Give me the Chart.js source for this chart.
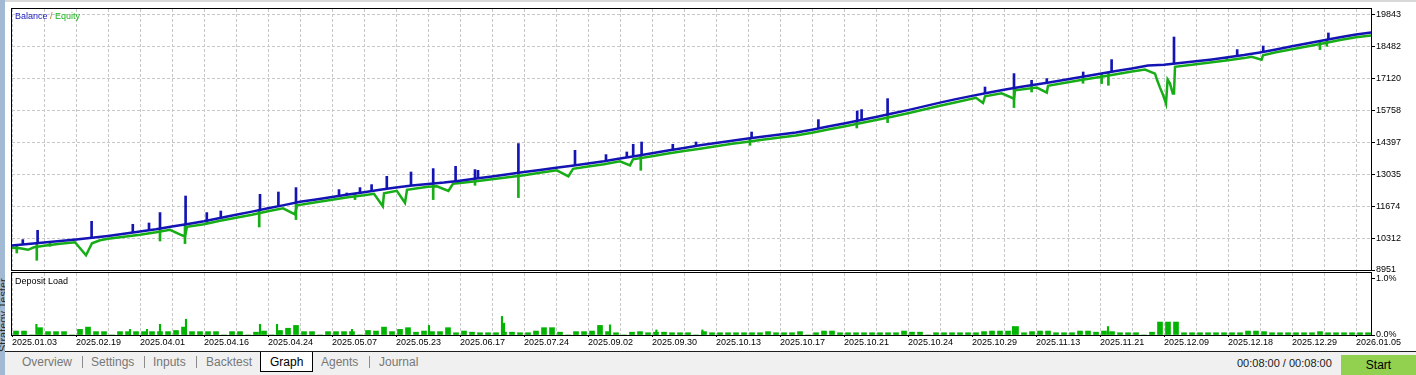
<!DOCTYPE html>
<html>
<head>
<meta charset="utf-8">
<script src="https://cdn.jsdelivr.net/npm/chart.js@4.4.1/dist/chart.umd.min.js"></script>
<style>
  html,body{margin:0;padding:0;}
  body{width:1416px;height:375px;overflow:hidden;background:#fff;position:relative;font-family:'Liberation Sans',Arial,sans-serif;}
  .abs{position:absolute;}
  .tab{position:absolute;top:354px;font-size:12px;line-height:16px;color:#777;white-space:nowrap;}
  .sep{position:absolute;top:356px;width:1px;height:12px;background:#8c8c8c;}
</style>
</head>
<body>
<div class="abs" style="left:0;top:0;width:1416px;height:2px;background:#d8d8d8"></div>
<div class="abs" style="left:0;top:0;width:5px;height:375px;background:#a2b9d3;overflow:hidden">
  <div class="abs" style="left:-3px;top:352px;transform:rotate(-90deg);transform-origin:0 0;font-size:11px;color:#2a2a2a;white-space:nowrap">Strategy Tester</div>
</div>
<canvas id="main" class="abs" style="left:0;top:0" width="1416" height="272"></canvas>
<canvas id="dep" class="abs" style="left:0;top:272px" width="1416" height="80"></canvas>

<div class="abs" style="left:15px;top:10px;font-size:9px;line-height:12px;white-space:nowrap"><span style="color:#1a1ab8">Balance</span> <span style="color:#b07820">/</span> <span style="color:#1eb41e">Equity</span></div>
<div class="abs" style="left:15px;top:275px;font-size:9px;line-height:12px;color:#000;white-space:nowrap">Deposit Load</div>

<div class="abs" style="left:5px;top:351px;width:1411px;height:24px;background:#f0f0f0"></div>
<div class="abs" style="left:5px;top:351px;width:1411px;height:1px;background:#1e1e1e"></div>
<div class="abs" style="left:260px;top:352px;width:51px;height:19px;background:#fff;border-left:1px solid #000;border-right:1px solid #000;border-bottom:1px solid #000"></div>
<div class="tab" style="left:22px">Overview</div>
<div class="sep" style="left:82px"></div>
<div class="tab" style="left:91px">Settings</div>
<div class="sep" style="left:144px"></div>
<div class="tab" style="left:153px">Inputs</div>
<div class="sep" style="left:196px"></div>
<div class="tab" style="left:206px">Backtest</div>
<div class="tab" style="left:270px;color:#000">Graph</div>
<div class="tab" style="left:321px">Agents</div>
<div class="sep" style="left:369px"></div>
<div class="tab" style="left:379px">Journal</div>
<div class="abs" style="left:1237px;top:355px;font-size:11px;line-height:16px;color:#202020;white-space:nowrap">00:08:00 / 00:08:00</div>
<div class="abs" style="left:1341px;top:355px;width:75px;height:20px;background:#92d050;font-size:12px;line-height:20px;text-align:center;color:#000">Start</div>

<script>
// ---------------- data ----------------
const dateLabels = ['2025.01.03','2025.02.19','2025.04.01','2025.04.16','2025.04.24','2025.05.07','2025.05.23','2025.06.17','2025.07.24','2025.09.02','2025.09.30','2025.10.13','2025.10.17','2025.10.21','2025.10.24','2025.10.29','2025.11.13','2025.11.21','2025.12.09','2025.12.18','2025.12.29','2026.01.05'];
const yTickLabels = ['8951','10312','11674','13035','14397','15758','17120','18482','19843'];
const depTickLabels = ['0.0%','1.0%'];
const depTickValues = [0, 1.0];

// balance sampled every 4 trade-index units
const balance = [10000,10064,10124,10188,10256,10324,10405,10495,10588,10686,
 10802,10917,11032,11168,11305,11441,11582,11718,11859,11961,
 12064,12166,12268,12371,12473,12550,12614,12678,12759,12853,
 12942,13036,13125,13219,13309,13398,13488,13586,13701,13812,
 13927,14042,14153,14268,14362,14460,14554,14643,14729,14814,
 14933,15066,15198,15338,15479,15620,15769,15927,16089,16238,
 16375,16511,16639,16750,16861,16967,17087,17202,17317,17432,
 17547,17667,17701,17773,17850,17931,18021,18114,18229,18357,
 18490,18618,18750,18878,18997,19080];

// equity: trade index / value
const equityIdx = [0,2,4,5.5,8,12,15.75,18.5,20,22,24,28,32,36,39.5,42.5,43.25,43.75,48,52,56,60,64,67.75,70.75,71.25,76,80,84,88,90.5,92.7,93,96.2,98.25,98.75,104,106.2,109.1,110.25,116,120,124,128,132,136.2,139.1,140.25,144,148,152,154.5,155.25,160,164,168,172,176,180,184,188,192,196,200,204,208,212,216,220,224,228,232,236,241,242.75,243.25,247.4,250.5,250.75,256.2,258.7,259,264,268,272,276,280,283.25,285.75,286.3,287,287.8,288.5,288.9,289.5,290.2,290.5,290.75,296,300,304,308,309.9,312.4,312.75,316,320,324,328,332,336,340];
const equityVal = [9898,9876,9812,9919,9983,10068,10132,9578,10089,10217,10281,10367,10452,10558,10665,10431,10388,10793,10900,11049,11177,11305,11454,11582,11326,11710,11838,11944,12051,12136,12200,11667,12221,12328,11816,12371,12499,12520,12320,12627,12733,12818,12904,12989,13096,13202,12946,13266,13360,13458,13586,13415,13671,13799,13914,14025,14119,14226,14332,14417,14511,14601,14686,14801,14938,15070,15206,15343,15483,15633,15795,15952,16102,16294,16072,16358,16485,16259,16613,16728,16515,16805,16954,17070,17180,17296,17411,17496,17325,17040,16728,16400,16046,17070,16899,16473,16473,17615,17722,17807,17893,17986,18042,17922,18106,18234,18362,18490,18618,18754,18873,18959];

// balance peaks (blue spikes) : trade index / top value
const blueSpikeIdx = [2.7,6.4,19.9,30.2,34.25,37,43.4,48.7,52.2,62,66.6,71,81.75,83.7,87,89.9,93.7,99.75,105.3,110.9,115.75,116.5,126.6,140.75,148.5,153.7,155.3,157.4,165.2,171,184.9,201.6,211.3,212.4,218.9,243.25,250.5,254.9,258.7,267.8,274.9,290.5,306.3,312.8,329.1];
const blueSpikeTop = [10247,10644,11028,10900,10955,11399,12106,11399,11467,12179,12277,12464,12379,12234,12464,12592,12946,13130,13275,13373,13232,13200,14341,14055,13872,13983,14311,14409,14311,14409,14835,15364,15731,15791,16259,16754,17325,17040,17112,17394,17922,18886,18349,18502,19057];

// equity troughs (green spikes) : trade index / low value
const greenSpikeIdx = [1.2,6.2,9.5,37,43.25,48.75,61.8,71,85.75,105.3,115.75,126.6,157.2,184.5,211.2,218.9,250.5,254.9,267.75,272.4,274.1,303.7,327,328.7];
const greenSpikeLow = [9676,9365,9962,10188,10077,10942,10785,11100,11953,11953,12563,12038,13202,14268,15006,15236,15876,16541,16912,16899,16827,17893,18349,18490];

// deposit load (%), one value per 2 trade-index units
const depositLoad = [0.07,0.07,0,0.13,0.06,0.06,0.06,0,0.1,0.14,
 0.06,0.06,0,0.06,0.06,0.06,0.06,0.06,0.06,0.06,
 0.08,0.14,0.06,0.06,0.06,0.06,0,0.06,0.06,0,
 0.05,0.07,0,0.08,0.12,0.17,0.06,0.06,0,0.06,
 0.06,0.06,0.06,0,0.08,0.07,0.14,0.06,0.1,0.13,
 0.05,0.07,0.06,0.06,0.13,0.04,0.07,0.05,0.04,0.04,
 0.04,0.05,0.05,0.04,0.04,0.07,0.13,0.13,0.05,0,
 0.06,0.06,0.07,0.17,0.06,0.04,0,0.05,0.06,0.04,
 0.05,0.05,0.04,0.04,0.04,0,0.06,0.04,0.04,0.04,
 0.04,0.04,0.04,0.04,0.06,0.04,0.04,0.04,0.06,0,
 0.04,0.07,0.07,0.04,0.04,0.04,0.04,0.04,0.04,0.04,
 0.04,0.07,0.05,0.05,0,0.04,0.04,0.04,0.04,0.04,
 0.04,0.06,0.07,0.07,0.07,0.15,0.04,0.06,0.07,0.07,
 0.04,0.04,0.04,0.07,0.07,0.05,0.07,0.06,0.04,0.04,
 0.04,0,0.05,0.23,0.23,0.23,0.04,0.04,0.04,0.04,
 0.04,0.04,0.04,0.04,0.07,0.07,0.06,0.04,0.04,0.04,
 0.04,0.04,0.04,0.06,0.04,0.04,0.04,0.04,0.04,0.04];
const depSpikeIdx = [6.1,29.5,33.75,37,43.5,62,66.25,85,104.25,122.5,123,149.5,161.1,172.6,250.25,274];
const depSpikeVal = [0.19,0.1,0.1,0.19,0.28,0.19,0.19,0.1,0.17,0.33,0.21,0.18,0.09,0.09,0.15,0.15];

// ---------------- build ----------------
const BLUE = '#1414b4', GREEN = '#16ad16', DGREEN = '#00b400', GRID = '#c8c8c8';
const FONT = "'Liberation Sans', Arial, sans-serif";
Chart.defaults.font.family = FONT;

const balIdx = balance.map((v, i) => i * 4);
function interp(xs, ys, x) {
  for (let i = 1; i < xs.length; i++) {
    if (x <= xs[i]) { const t = (x - xs[i-1]) / (xs[i] - xs[i-1]); return ys[i-1] + t * (ys[i] - ys[i-1]); }
  }
  return ys[ys.length - 1];
}
const balancePts = balance.map((v, i) => ({x: balIdx[i], y: v}));
const equityPts = equityVal.map((v, i) => ({x: equityIdx[i], y: v}));
const blueSpikes = blueSpikeIdx.map((x, i) => ({x, y: [interp(balIdx, balance, x), blueSpikeTop[i]]}));
const greenSpikes = greenSpikeIdx.map((x, i) => ({x, y: [greenSpikeLow[i], interp(balIdx, balance, x)]}));
const depPts = depositLoad.map((v, i) => ({x: i * 2 + 1, y: v}));
const depSpikes = depSpikeIdx.map((x, i) => ({x, y: depSpikeVal[i]}));

const gridIdx = [];
for (let v = 0; v <= 336; v += 8) gridIdx.push(v);

const frame = {
  id: 'frame',
  afterDraw(c) {
    const a = c.chartArea, ctx = c.ctx;
    ctx.save(); ctx.strokeStyle = '#000'; ctx.lineWidth = 1;
    ctx.strokeRect(a.left - 0.5, a.top - 0.5, a.right - a.left + 1, a.bottom - a.top + 1);
    ctx.restore();
  }
};

const tickFont = {family: FONT, size: 9};

new Chart(document.getElementById('main'), {
  type: 'line',
  data: { datasets: [
    {type: 'bar', data: blueSpikes, backgroundColor: BLUE, barThickness: 2, grouped: false, order: 1},
    {type: 'line', data: balancePts, borderColor: BLUE, borderWidth: 2.5, pointRadius: 0, tension: 0, order: 2},
    {type: 'line', data: equityPts, borderColor: GREEN, borderWidth: 2.5, pointRadius: 0, tension: 0, order: 3},
    {type: 'bar', data: greenSpikes, backgroundColor: GREEN, barThickness: 2, grouped: false, order: 4}
  ]},
  options: {
    responsive: false, animation: false, devicePixelRatio: 1,
    layout: {padding: {left: 12, top: 9, right: 0, bottom: 0}},
    plugins: {legend: {display: false}, tooltip: {enabled: false}},
    scales: {
      x: {
        type: 'linear', min: 0, max: 339.75, offset: false,
        afterBuildTicks: s => { s.ticks = gridIdx.map(v => ({value: v})); },
        afterFit: s => { s.height = 2; s.paddingLeft = 0; s.paddingRight = 0; },
        ticks: {display: false},
        grid: {color: GRID, drawTicks: false, offset: false},
        border: {display: false, dash: [3, 2]}
      },
      y: {
        type: 'linear', position: 'right', min: 8951, max: 20080,
        afterBuildTicks: s => { s.ticks = yTickLabels.map(t => ({value: Number(t)})); },
        afterFit: s => { s.width = 45; s.paddingTop = 0; s.paddingBottom = 0; },
        ticks: {autoSkip: false, callback: (v, i) => yTickLabels[i], font: tickFont, color: '#000', padding: 1},
        grid: {color: GRID, tickColor: '#000', tickLength: 4},
        border: {display: false, dash: [3, 2]}
      }
    }
  },
  plugins: [frame]
});

new Chart(document.getElementById('dep'), {
  type: 'bar',
  data: { datasets: [
    {data: depPts, backgroundColor: DGREEN, barThickness: 5, grouped: false},
    {data: depSpikes, backgroundColor: DGREEN, barThickness: 1.5, grouped: false}
  ]},
  options: {
    responsive: false, animation: false, devicePixelRatio: 1,
    layout: {padding: {left: 12, top: 1, right: 0, bottom: 0}},
    plugins: {legend: {display: false}, tooltip: {enabled: false}},
    scales: {
      x: {
        type: 'linear', min: 0, max: 339.75, offset: false,
        afterBuildTicks: s => { s.ticks = gridIdx.map(v => ({value: v})); },
        afterFit: s => { s.height = 17; s.paddingLeft = 0; s.paddingRight = 0; },
        ticks: {autoSkip: false, maxRotation: 0, minRotation: 0, align: 'start', padding: 0, font: tickFont, color: '#000',
                callback: (v, i) => (i % 2 === 0 ? dateLabels[i / 2] : '')},
        grid: {color: GRID, offset: false, tickLength: 2, tickColor: c => (c.index % 2 === 0 ? '#000' : 'rgba(0,0,0,0)')},
        border: {display: false, dash: [3, 2]}
      },
      y: {
        type: 'linear', position: 'right', min: 0, max: 1.1,
        afterBuildTicks: s => { s.ticks = depTickValues.map(v => ({value: v})); },
        afterFit: s => { s.width = 45; s.paddingTop = 0; s.paddingBottom = 0; },
        ticks: {autoSkip: false, callback: (v, i) => depTickLabels[i], font: tickFont, color: '#000', padding: 1},
        grid: {drawOnChartArea: false, tickColor: '#000', tickLength: 4},
        border: {display: false}
      }
    }
  },
  plugins: [frame]
});
</script>
</body>
</html>
